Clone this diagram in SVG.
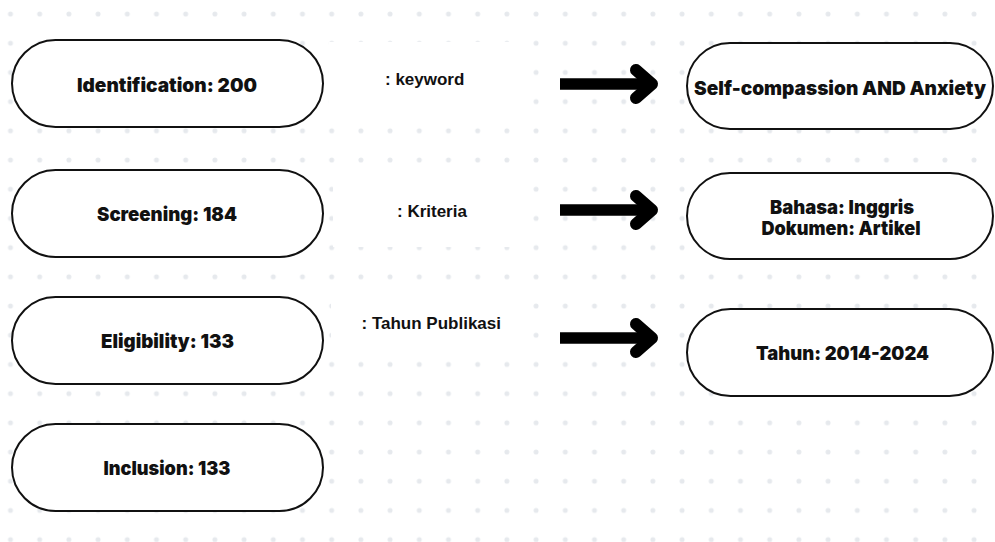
<svg xmlns="http://www.w3.org/2000/svg" width="995" height="542" viewBox="0 0 995 542">
  <defs>
    <pattern id="dots" x="10.5" y="14" width="29.2" height="29.2" patternUnits="userSpaceOnUse">
      <circle cx="0" cy="0" r="2.5" fill="#e6e9ed"/>
      <circle cx="29.2" cy="0" r="2.5" fill="#e6e9ed"/>
      <circle cx="0" cy="29.2" r="2.5" fill="#e6e9ed"/>
      <circle cx="29.2" cy="29.2" r="2.5" fill="#e6e9ed"/>
    </pattern>
  </defs>
  <style>
    .pill { fill: #ffffff; stroke: #111111; stroke-width: 2; }
    .t { font-family: Inter, "Liberation Sans", sans-serif; font-weight: 900; font-size: 19px; fill: #111111; text-anchor: middle; }
    .lbl { font-family: "Liberation Sans", Arial, sans-serif; font-weight: bold; font-size: 17px; fill: #111111; }
    .shaft { stroke: #000000; stroke-width: 11.5; fill: none; stroke-linecap: butt; }
    .head { stroke: #000000; stroke-width: 12; fill: none; stroke-linecap: round; stroke-linejoin: round; }
  </style>
  <rect x="0" y="0" width="995" height="542" fill="#ffffff"/>
  <rect x="0" y="0" width="995" height="542" fill="url(#dots)"/>
  <!-- white label backdrops -->
  <rect x="329" y="42" width="196" height="80" fill="#ffffff"/>
  <rect x="333" y="168" width="190" height="79" fill="#ffffff"/>
  <rect x="331" y="283" width="194" height="68" fill="#ffffff"/>

  <g id="identification">
    <rect class="pill" x="12" y="40" width="311" height="87" rx="43.5"/>
    <text class="t" x="167" y="91.5" textLength="180" lengthAdjust="spacingAndGlyphs">Identification: 200</text>
  </g>
  <g id="screening">
    <rect class="pill" x="12" y="170" width="311" height="87" rx="43.5"/>
    <text class="t" x="167" y="221" textLength="140" lengthAdjust="spacingAndGlyphs">Screening: 184</text>
  </g>
  <g id="eligibility">
    <rect class="pill" x="12" y="297" width="311" height="87" rx="43.5"/>
    <text class="t" x="167.5" y="348" textLength="133" lengthAdjust="spacingAndGlyphs">Eligibility: 133</text>
  </g>
  <g id="inclusion">
    <rect class="pill" x="12" y="424" width="311" height="87" rx="43.5"/>
    <text class="t" x="167" y="475" textLength="127" lengthAdjust="spacingAndGlyphs">Inclusion: 133</text>
  </g>

  <g id="label-keyword">
    <text class="lbl" x="385" y="85">: keyword</text>
  </g>
  <g id="label-kriteria">
    <text class="lbl" x="397" y="216.5">: Kriteria</text>
  </g>
  <g id="label-tahun">
    <text class="lbl" x="361.5" y="328.5">: Tahun Publikasi</text>
  </g>

  <g id="keyword-node">
    <rect class="pill" x="687" y="43" width="306" height="86" rx="43"/>
    <text class="t" x="840" y="95" textLength="292" lengthAdjust="spacingAndGlyphs">Self-compassion AND Anxiety</text>
  </g>
  <g id="kriteria-node">
    <rect class="pill" x="687" y="173" width="306" height="86" rx="43"/>
    <text class="t" x="842" y="213.5" textLength="144" lengthAdjust="spacingAndGlyphs">Bahasa: Inggris</text>
    <text class="t" x="841" y="234.5" textLength="159" lengthAdjust="spacingAndGlyphs">Dokumen: Artikel</text>
  </g>
  <g id="tahun-node">
    <rect class="pill" x="687" y="309" width="306" height="87" rx="43.5"/>
    <text class="t" x="842.5" y="360" textLength="173" lengthAdjust="spacingAndGlyphs">Tahun: 2014-2024</text>
  </g>

  <g id="connectors">
    <line class="shaft" x1="560" y1="84" x2="650" y2="84"/>
    <polyline class="head" points="636,70 652,84 636,98"/>
    <line class="shaft" x1="560" y1="210" x2="650" y2="210"/>
    <polyline class="head" points="636,196 652,210 636,224"/>
    <line class="shaft" x1="560" y1="338" x2="650" y2="338"/>
    <polyline class="head" points="636,324 652,338 636,352"/>
  </g>
</svg>
